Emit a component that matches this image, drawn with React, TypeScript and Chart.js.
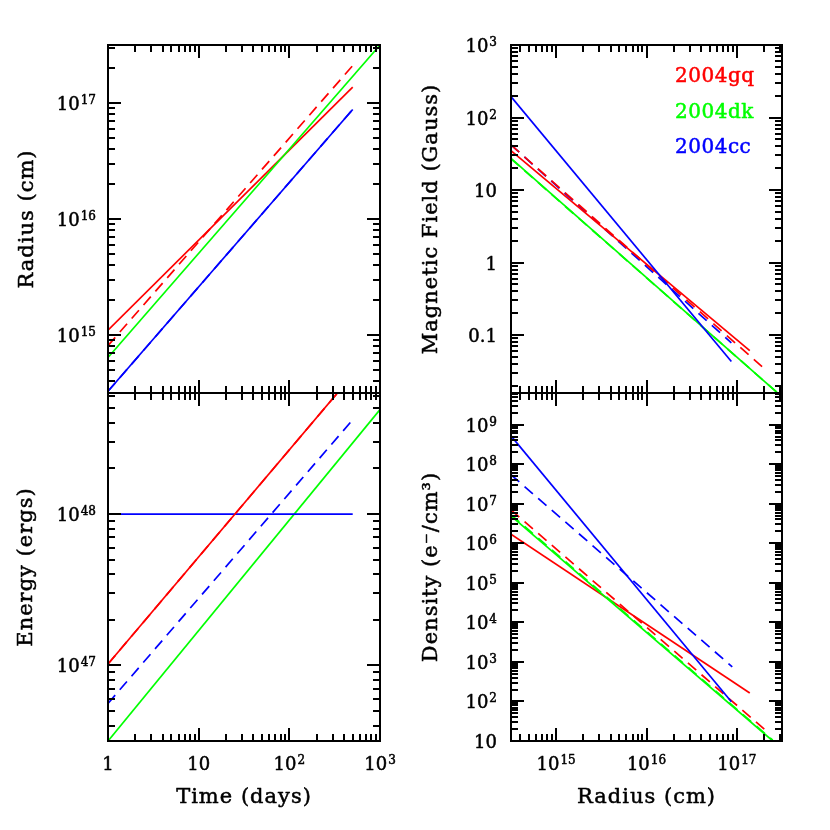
import React, { useEffect, useRef } from "react";
import { Chart, registerables } from "chart.js";

Chart.register(...registerables);

const W = 830;
const H = 830;
const RED = "#ff0000";
const GREEN = "#00ff00";
const BLUE = "#0000ff";

// ---------------- Top-left: Radius (cm) vs Time (days) ----------------
const timeGq = [1, 500];
const radiusGqSolid = [1.1e15, 1.37e17];
const radiusGqDashed = [8.1e14, 2.1e17];
const timeDk = [1, 1000];
const radiusDkSolid = [6.4e14, 3.16e17];
const timeCc = [1, 500];
const radiusCcSolid = [3.27e14, 8.8e16];
const radiusCcDashed = [3.27e14, 8.8e16];

// ---------------- Bottom-left: Energy (ergs) vs Time (days) ----------------
const energyGqSolid = [1.02e47, 8.3e48];
const energyGqDashed = [1.02e47, 8.3e48];
const energyDkSolid = [3.16e46, 4.9e48];
const energyCcSolid = [1e48, 1e48];
const energyCcDashed = [5.6e46, 4.2e48];

// ---------------- Top-right: Magnetic Field (Gauss) vs Radius (cm) ----------------
const bRadiusGqSolid = [3.16e14, 1.39e17];
const bFieldGqSolid = [35, 0.061];
const bRadiusGqDashed = [3.16e14, 2.09e17];
const bFieldGqDashed = [41.9, 0.033];
const bRadiusDk = [3.16e14, 2.84e17];
const bFieldDkSolid = [27.4, 0.0158];
const bFieldDkDashed = [27.0, 0.0158];
const bRadiusCcSolid = [3.16e14, 8.7e16];
const bFieldCcSolid = [194, 0.043];
const bRadiusCcDashed = [3.16e14, 8.7e16];
const bFieldCcDashed = [41.9, 0.078];

// ---------------- Bottom-right: Density (e-/cm3) vs Radius (cm) ----------------
const nRadiusGqSolid = [3.16e14, 1.39e17];
const densityGqSolid = [1.7e6, 164];
const nRadiusGqDashed = [3.16e14, 2.09e17];
const densityGqDashed = [7.0e6, 18.6];
const nRadiusDk = [3.16e14, 2.5e17];
const densityDkSolid = [4.9e6, 10];
const densityDkDashed = [5.3e6, 10.5];
const nRadiusCcSolid = [3.16e14, 8.7e16];
const densityCcSolid = [5.2e8, 98];
const nRadiusCcDashed = [3.16e14, 8.9e16];
const densityCcDashed = [5.4e7, 750];

// ---------------- Axes ----------------
const timeRange = [1, 1000];
const radiusRange = [Math.pow(10, 14.5), Math.pow(10, 17.5)];
const energyRange = [Math.pow(10, 46.5), Math.pow(10, 48.8)];
const fieldRange = [Math.pow(10, -1.8), 1000];
const densityRange = [10, Math.pow(10, 9.8)];

const timeTickValues = [1, 10, 100, 1000];
const timeTickLabels = ["1", "10", "10^2", "10^3"];
const radiusTickValues = [1e15, 1e16, 1e17];
const radiusTickLabels = ["10^15", "10^16", "10^17"];
const energyTickValues = [1e47, 1e48];
const energyTickLabels = ["10^47", "10^48"];
const fieldTickValues = [0.1, 1, 10, 100, 1000];
const fieldTickLabels = ["0.1", "1", "10", "10^2", "10^3"];
const densityTickValues = [10, 1e2, 1e3, 1e4, 1e5, 1e6, 1e7, 1e8, 1e9];
const densityTickLabels = ["10", "10^2", "10^3", "10^4", "10^5", "10^6", "10^7", "10^8", "10^9"];

const legendNames = ["2004gq", "2004dk", "2004cc"];
const legendColors = [RED, GREEN, BLUE];

const FONT = '"DejaVu Serif", serif';

type Series = { x: number[]; y: number[]; color: string; dashed: boolean };

type Panel = {
  rect: { l: number; t: number; r: number; b: number };
  xRange: number[];
  yRange: number[];
  series: Series[]; // bottom-most first
  xTicks: { values: number[]; labels: string[] } | null;
  yTicks: { values: number[]; labels: string[] };
  yLabelRight: number;
  yTitle: string;
  yTitleX: number;
  xTitle: string | null;
  legend: boolean;
};

const panels: Panel[] = [
  {
    rect: { l: 108, t: 45, r: 380, b: 393 },
    xRange: timeRange,
    yRange: radiusRange,
    series: [
      { x: timeGq, y: radiusGqSolid, color: RED, dashed: false },
      { x: timeGq, y: radiusGqDashed, color: RED, dashed: true },
      { x: timeDk, y: radiusDkSolid, color: GREEN, dashed: false },
      { x: timeCc, y: radiusCcSolid, color: BLUE, dashed: false },
      { x: timeCc, y: radiusCcDashed, color: BLUE, dashed: true },
    ],
    xTicks: null,
    yTicks: { values: radiusTickValues, labels: radiusTickLabels },
    yLabelRight: 96,
    yTitle: "Radius (cm)",
    yTitleX: 33,
    xTitle: null,
    legend: false,
  },
  {
    rect: { l: 108, t: 393, r: 380, b: 741 },
    xRange: timeRange,
    yRange: energyRange,
    series: [
      { x: timeDk, y: energyDkSolid, color: GREEN, dashed: false },
      { x: timeCc, y: energyCcSolid, color: BLUE, dashed: false },
      { x: timeCc, y: energyCcDashed, color: BLUE, dashed: true },
      { x: timeGq, y: energyGqSolid, color: RED, dashed: false },
      { x: timeGq, y: energyGqDashed, color: RED, dashed: true },
    ],
    xTicks: { values: timeTickValues, labels: timeTickLabels },
    yTicks: { values: energyTickValues, labels: energyTickLabels },
    yLabelRight: 96,
    yTitle: "Energy (ergs)",
    yTitleX: 32,
    xTitle: "Time (days)",
    legend: false,
  },
  {
    rect: { l: 511, t: 45, r: 782, b: 393 },
    xRange: radiusRange,
    yRange: fieldRange,
    series: [
      { x: bRadiusCcDashed, y: bFieldCcDashed, color: BLUE, dashed: true },
      { x: bRadiusGqDashed, y: bFieldGqDashed, color: RED, dashed: true },
      { x: bRadiusGqSolid, y: bFieldGqSolid, color: RED, dashed: false },
      { x: bRadiusDk, y: bFieldDkSolid, color: GREEN, dashed: false },
      { x: bRadiusDk, y: bFieldDkDashed, color: GREEN, dashed: true },
      { x: bRadiusCcSolid, y: bFieldCcSolid, color: BLUE, dashed: false },
    ],
    xTicks: null,
    yTicks: { values: fieldTickValues, labels: fieldTickLabels },
    yLabelRight: 497,
    yTitle: "Magnetic Field (Gauss)",
    yTitleX: 437,
    xTitle: null,
    legend: true,
  },
  {
    rect: { l: 511, t: 393, r: 782, b: 741 },
    xRange: radiusRange,
    yRange: densityRange,
    series: [
      { x: nRadiusCcDashed, y: densityCcDashed, color: BLUE, dashed: true },
      { x: nRadiusGqDashed, y: densityGqDashed, color: RED, dashed: true },
      { x: nRadiusGqSolid, y: densityGqSolid, color: RED, dashed: false },
      { x: nRadiusDk, y: densityDkSolid, color: GREEN, dashed: false },
      { x: nRadiusDk, y: densityDkDashed, color: GREEN, dashed: true },
      { x: nRadiusCcSolid, y: densityCcSolid, color: BLUE, dashed: false },
    ],
    xTicks: { values: radiusTickValues, labels: radiusTickLabels },
    yTicks: { values: densityTickValues, labels: densityTickLabels },
    yLabelRight: 497,
    yTitle: "Density (e\u207B/cm\u00B3)",
    yTitleX: 437,
    xTitle: "Radius (cm)",
    legend: false,
  },
];

function logTicks(min: number, max: number) {
  const out: { v: number; major: boolean }[] = [];
  const e0 = Math.floor(Math.log10(min));
  const e1 = Math.ceil(Math.log10(max));
  for (let e = e0; e <= e1; e++) {
    for (let k = 1; k <= 9; k++) {
      const v = k * Math.pow(10, e);
      if (v >= min * 0.9999 && v <= max * 1.0001) out.push({ v, major: k === 1 });
    }
  }
  return out;
}

function boldText(ctx: CanvasRenderingContext2D, s: string, x: number, y: number) {
  ctx.fillText(s, x, y);
  ctx.strokeText(s, x, y);
}

function drawPowLabel(
  ctx: CanvasRenderingContext2D,
  label: string,
  x: number,
  baseline: number,
  align: "right" | "center"
) {
  const [base, exp] = label.split("^");
  const baseFont = `18px ${FONT}`;
  const supFont = `12px ${FONT}`;
  ctx.font = baseFont;
  const wb = ctx.measureText(base).width;
  let we = 0;
  if (exp) {
    ctx.font = supFont;
    we = ctx.measureText(exp).width + 1;
  }
  const total = wb + we;
  const x0 = align === "right" ? x - total : x - total / 2;
  ctx.textAlign = "left";
  ctx.textBaseline = "alphabetic";
  ctx.font = baseFont;
  boldText(ctx, base, x0, baseline);
  if (exp) {
    ctx.font = supFont;
    boldText(ctx, exp, x0 + wb + 1, baseline - 6);
  }
}

function makeDecor(p: Panel) {
  return {
    id: "pgDecor",
    afterDatasetsDraw(chart: any) {
      const ctx: CanvasRenderingContext2D = chart.ctx;
      const a = chart.chartArea;
      const xs = chart.scales.x;
      const ys = chart.scales.y;
      ctx.save();
      ctx.strokeStyle = "#000";
      ctx.fillStyle = "#000";
      ctx.lineWidth = 2;
      ctx.setLineDash([]);
      ctx.beginPath();
      for (const t of logTicks(p.xRange[0], p.xRange[1])) {
        const px = Math.round(xs.getPixelForValue(t.v));
        const len = t.major ? 13 : 7;
        ctx.moveTo(px, a.bottom);
        ctx.lineTo(px, a.bottom - len);
        ctx.moveTo(px, a.top);
        ctx.lineTo(px, a.top + len);
      }
      for (const t of logTicks(p.yRange[0], p.yRange[1])) {
        const py = Math.round(ys.getPixelForValue(t.v));
        const len = t.major ? 13 : 7;
        ctx.moveTo(a.left, py);
        ctx.lineTo(a.left + len, py);
        ctx.moveTo(a.right, py);
        ctx.lineTo(a.right - len, py);
      }
      ctx.stroke();
      ctx.strokeRect(a.left, a.top, a.right - a.left, a.bottom - a.top);

      // text: slight stroke to mimic the heavier plotting font
      ctx.lineWidth = 0.5;
      ctx.lineJoin = "round";
      // y tick labels
      p.yTicks.values.forEach((v, i) => {
        const py = ys.getPixelForValue(v);
        drawPowLabel(ctx, p.yTicks.labels[i], p.yLabelRight, py + 7, "right");
      });
      // x tick labels
      if (p.xTicks) {
        p.xTicks.values.forEach((v, i) => {
          const px = xs.getPixelForValue(v);
          drawPowLabel(ctx, p.xTicks!.labels[i], px, a.bottom + 29, "center");
        });
      }
      // axis titles
      ctx.font = `21px ${FONT}`;
      (ctx as any).letterSpacing = "1px";
      ctx.textAlign = "center";
      ctx.textBaseline = "alphabetic";
      ctx.save();
      ctx.translate(p.yTitleX, (a.top + a.bottom) / 2);
      ctx.rotate(-Math.PI / 2);
      boldText(ctx, p.yTitle, 0, 0);
      ctx.restore();
      if (p.xTitle) {
        boldText(ctx, p.xTitle, (a.left + a.right) / 2, 803);
      }
      // legend
      if (p.legend) {
        ctx.font = `20px ${FONT}`;
        (ctx as any).letterSpacing = "0.5px";
        ctx.textAlign = "left";
        const baselines = [82, 117.5, 153];
        legendNames.forEach((name, i) => {
          ctx.fillStyle = legendColors[i];
          ctx.strokeStyle = legendColors[i];
          boldText(ctx, name, 675, baselines[i]);
        });
      }
      (ctx as any).letterSpacing = "0px";
      ctx.restore();
    },
  };
}

function PanelChart({ p }: { p: Panel }) {
  const ref = useRef<HTMLCanvasElement | null>(null);
  useEffect(() => {
    if (!ref.current) return;
    const datasets = p.series
      .map((s) => ({
        data: s.x.map((x, i) => ({ x, y: s.y[i] })),
        borderColor: s.color,
        backgroundColor: s.color,
        borderWidth: 1.7,
        borderDash: s.dashed ? [11, 7] : [],
        pointRadius: 0,
        fill: false,
        tension: 0,
      }))
      .reverse();
    const chart = new Chart(ref.current, {
      type: "line",
      data: { datasets },
      options: {
        responsive: false,
        animation: false,
        events: [],
        layout: {
          padding: { left: p.rect.l, top: p.rect.t, right: W - p.rect.r, bottom: H - p.rect.b },
        },
        plugins: { legend: { display: false }, tooltip: { enabled: false }, title: { display: false } },
        scales: {
          x: { type: "logarithmic", min: p.xRange[0], max: p.xRange[1], display: false },
          y: { type: "logarithmic", min: p.yRange[0], max: p.yRange[1], display: false },
        },
      },
      plugins: [makeDecor(p)],
    } as any);
    return () => chart.destroy();
  }, [p]);
  return (
    <canvas
      ref={ref}
      width={W}
      height={H}
      style={{ position: "absolute", left: 0, top: 0, width: W, height: H }}
    />
  );
}

export default function App() {
  return (
    <div style={{ position: "absolute", left: 0, top: 0, width: W, height: H, background: "#fff" }}>
      {panels.map((p, i) => (
        <PanelChart key={i} p={p} />
      ))}
    </div>
  );
}
